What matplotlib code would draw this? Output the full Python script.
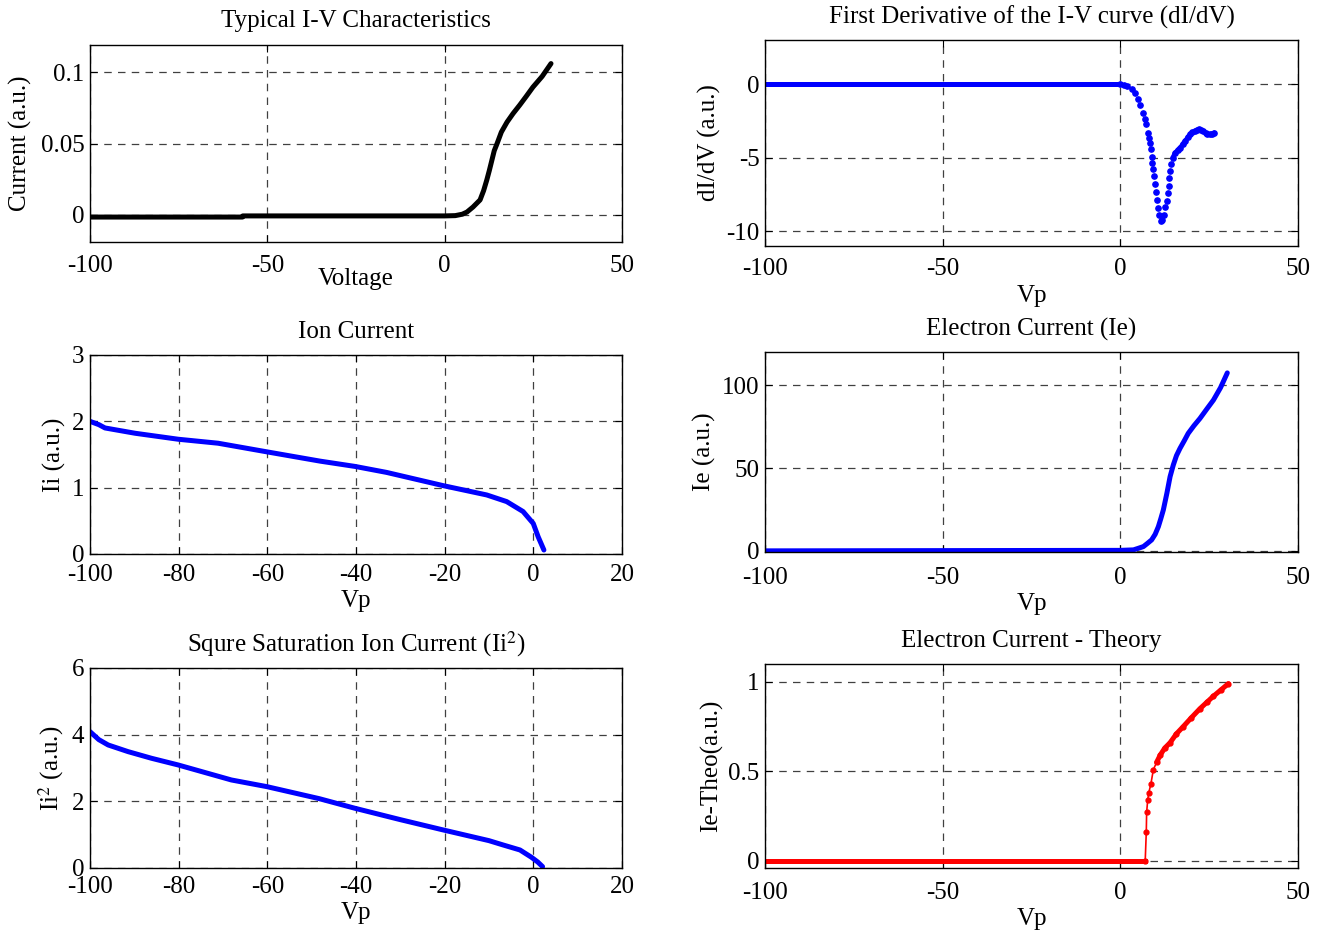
import numpy as np
import matplotlib
matplotlib.use("Agg")
import matplotlib.pyplot as plt
from matplotlib.ticker import FuncFormatter

plt.rcParams['font.family'] = ['Liberation Serif', 'DejaVu Serif']
plt.rcParams['mathtext.fontset'] = 'stix'
plt.rcParams['font.size'] = 18

# I-V characteristic (black)
v_iv = [-100, -57, -56.9, 0, 3, 5, 6.3, 8, 9, 10, 11, 11.9, 12.6, 13.3, 14, 14.8,
        16, 17.6, 19.3, 21.2, 23, 24.9, 27.5, 30]
i_iv = [-0.0015, -0.0015, -0.0007, -0.0007, -0.0005, 0.0005, 0.002, 0.0055, 0.008,
        0.0105, 0.017, 0.0245, 0.031, 0.038, 0.045, 0.050, 0.058, 0.065, 0.071,
        0.077, 0.083, 0.0895, 0.097, 0.106]

# first derivative dI/dV
v_d = [-100, -3, 0, 1, 2, 3.2, 4, 5.1, 5.6, 6.3, 6.8, 7.2, 7.7, 8.1, 8.4, 8.5, 8.8,
       9.0, 9.3, 9.6, 9.8, 10.0, 10.4, 10.7, 10.9, 11.4, 11.8, 12.3, 12.7, 13.1,
       13.3, 13.6, 13.8, 14.1, 14.3, 14.7, 15.4, 16.1, 16.8, 17.5, 18.2, 18.9,
       19.6, 20.3, 21.0, 21.6, 22.2, 22.8, 23.4, 24.0, 24.5, 25.1, 25.7, 26.4]
d_iv = [0, 0, 0, -0.05, -0.15, -0.34, -0.6, -1.02, -1.4, -1.93, -2.38, -2.72, -3.29,
        -3.63, -3.97, -4.42, -4.92, -5.33, -5.78, -6.24, -6.80, -7.32, -7.87, -8.39,
        -8.89, -9.30, -9.23, -8.89, -8.35, -7.94, -7.41, -6.92, -6.39, -5.90, -5.44,
        -4.99, -4.65, -4.48, -4.31, -4.08, -3.85, -3.62, -3.40, -3.28, -3.17, -3.10,
        -3.06, -3.12, -3.22, -3.32, -3.40, -3.42, -3.38, -3.29]

# ion current
v_ii = [-100, -98, -96.6, -89.8, -80.1, -71.1, -60.1, -48.1, -40.2, -33.1, -20.3,
        -10.5, -6, -2.3, 0, 1.1, 2.4]
ii = [2.0, 1.95, 1.90, 1.82, 1.73, 1.67, 1.54, 1.40, 1.32, 1.23, 1.03, 0.89, 0.79,
      0.64, 0.46, 0.26, 0.06]

# electron current
v_ie = [-100, 0, 3.7, 5, 6.5, 7.5, 8.8, 9.8, 10.7, 11.4, 12.1, 13.1, 14.0, 14.9,
        15.8, 16.8, 18, 19.1, 20.7, 22.4, 24.3, 26.2, 28.2, 30.1]
ie = [0, 0.3, 0.6, 1.5, 2.6, 4.3, 6.6, 10, 14.6, 19.5, 24.7, 34.8, 44.8, 51.8, 57.5,
      61.9, 66.5, 70.9, 75.5, 79.9, 85.5, 91.0, 98.5, 107.4]

# square of ion current
v_ii2 = [-100, -98, -95.9, -91.4, -86.1, -80.1, -68.1, -60.1, -48.3, -40.2, -30,
         -20.3, -10, -6.8, -3.0, -0.4, 1, 2.1]
ii2 = [4.09, 3.85, 3.69, 3.49, 3.29, 3.09, 2.64, 2.44, 2.08, 1.79, 1.45, 1.14, 0.82,
       0.69, 0.54, 0.32, 0.18, 0.04]

# theoretical electron current
v_th = [-100, 7.0, 7.3, 7.4, 7.7, 8.0, 8.6, 9.3, 10.2, 11.2, 12.5, 14.0, 15.8, 17.7,
        20, 22.4, 24.3, 26.2, 28.3, 30.4]
ie_th = [0, 0, 0.16, 0.27, 0.34, 0.38, 0.43, 0.51, 0.55, 0.59, 0.63, 0.66, 0.71,
         0.75, 0.80, 0.85, 0.885, 0.92, 0.955, 0.99]

fig = plt.figure(figsize=(13.21, 9.32), dpi=100)


def style(ax, xlim, ylim, xticks, yticks, xpad=8):
    ax.set_xlim(xlim)
    ax.set_ylim(ylim)
    ax.set_xticks(xticks)
    ax.set_yticks(yticks)
    ax.grid(True, color='0.25', linestyle=(0, (6, 5)), linewidth=0.9)
    ax.tick_params(direction='in', top=True, right=True, length=5, labelsize=18)
    ax.tick_params(axis='x', pad=xpad)
    ax.tick_params(axis='y', pad=4)
    ax.xaxis.set_major_formatter(FuncFormatter(lambda v, p: '%g' % v))
    ax.yaxis.set_major_formatter(FuncFormatter(lambda v, p: '%g' % v))
    for s in ax.spines.values():
        s.set_linewidth(1.0)


ax1 = fig.add_axes([0.0681, 0.7403, 0.4027, 0.2114])
ax1.plot(v_iv, i_iv, '-', color='k', lw=3.6, solid_capstyle='round')
style(ax1, (-100, 50), (-0.019, 0.119), [-100, -50, 0, 50], [0, 0.05, 0.1], xpad=9)
ax1.set_title('Typical I-V Characteristics', fontsize=18, pad=13)
ax1.set_xlabel('Voltage', fontsize=18, labelpad=-6)
ax1.set_ylabel('Current (a.u.)', fontsize=18, labelpad=6)

ax2 = fig.add_axes([0.5791, 0.7361, 0.4035, 0.2210])
ax2.plot(v_d[:3], d_iv[:3], '-', color='b', lw=3.6)
ax2.plot(v_d[2:], d_iv[2:], 'o', color='b', ms=3.8)
ax2.plot(v_d[35:], d_iv[35:], '-', color='b', lw=3, solid_capstyle='round')
style(ax2, (-100, 50), (-11, 3), [-100, -50, 0, 50], [-10, -5, 0], xpad=9)
ax2.set_title('First Derivative of the I-V curve (dI/dV)', fontsize=18, pad=12)
ax2.set_xlabel('Vp', fontsize=18, labelpad=3)
ax2.set_ylabel('dI/dV (a.u.)', fontsize=18, labelpad=4)

ax3 = fig.add_axes([0.0681, 0.4056, 0.4027, 0.2135])
ax3.plot(v_ii, ii, '-', color='b', lw=3.6, solid_capstyle='round')
style(ax3, (-100, 20), (0, 3), [-100, -80, -60, -40, -20, 0, 20], [0, 1, 2, 3], xpad=7)
ax3.set_title('Ion Current', fontsize=18, pad=12)
ax3.set_xlabel('Vp', fontsize=18, labelpad=3)
ax3.set_ylabel('Ii (a.u.)', fontsize=18, labelpad=4)

ax4 = fig.add_axes([0.5791, 0.4077, 0.4035, 0.2146])
ax4.plot(v_ie, ie, '-', color='b', lw=3.6, solid_capstyle='round')
style(ax4, (-100, 50), (-0.7, 120), [-100, -50, 0, 50], [0, 50, 100], xpad=11)
ax4.set_title('Electron Current (Ie)', fontsize=18, pad=12)
ax4.set_xlabel('Vp', fontsize=18, labelpad=3)
ax4.set_ylabel('Ie (a.u.)', fontsize=18, labelpad=4)

ax5 = fig.add_axes([0.0681, 0.0687, 0.4027, 0.2146])
ax5.plot(v_ii2, ii2, '-', color='b', lw=3.6, solid_capstyle='round')
style(ax5, (-100, 20), (0, 6), [-100, -80, -60, -40, -20, 0, 20], [0, 2, 4, 6], xpad=6)
ax5.set_title('Squre Saturation Ion Current (Ii$^{2}$)', fontsize=18, pad=12)
ax5.set_xlabel('Vp', fontsize=18, labelpad=3)
ax5.set_ylabel('Ii$^{2}$ (a.u.)', fontsize=18, labelpad=4)

ax6 = fig.add_axes([0.5791, 0.0687, 0.4035, 0.2189])
ax6.plot(v_th[:2], ie_th[:2], '-', color='r', lw=3.6)
ax6.plot(v_th[1:], ie_th[1:], '-', color='r', lw=1.2, marker='o', ms=3.5)
ax6.plot(v_th[8:], ie_th[8:], '-', color='r', lw=3.6, solid_capstyle='round')
style(ax6, (-100, 50), (-0.04, 1.1), [-100, -50, 0, 50], [0, 0.5, 1], xpad=10)
ax6.set_title('Electron Current - Theory', fontsize=18, pad=12)
ax6.set_xlabel('Vp', fontsize=18, labelpad=3)
ax6.set_ylabel('Ie-Theo(a.u.)', fontsize=18, labelpad=4)

fig.savefig('out.png', dpi=100)
